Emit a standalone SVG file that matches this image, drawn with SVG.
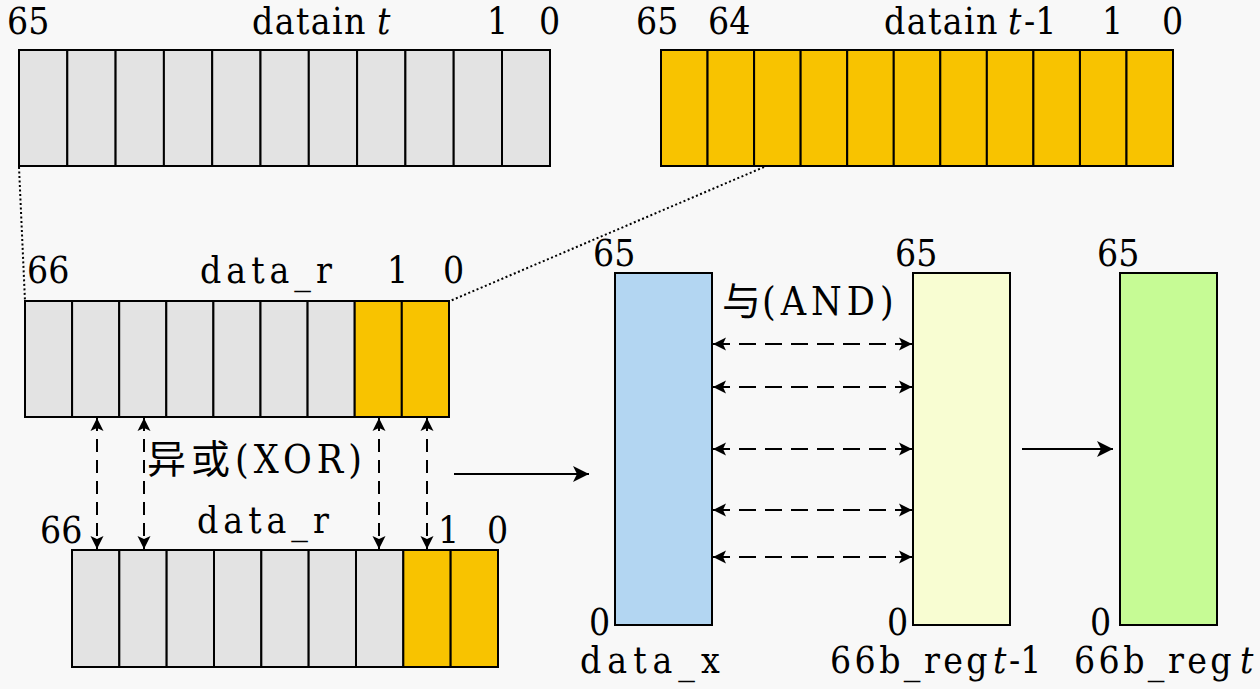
<svg xmlns="http://www.w3.org/2000/svg" width="1260" height="689" viewBox="0 0 1260 689">
<style>
text{font-family:"DejaVu Serif Condensed","DejaVu Serif",serif;font-stretch:condensed;font-size:37px;fill:#000}
.cjk{font-family:"DejaVu Serif Condensed","DejaVu Serif","Noto Sans CJK SC",serif;font-size:39px}
.it{font-style:italic}
.g{fill:#e3e3e3;stroke:#000;stroke-width:2}
.o{fill:#f8c300;stroke:#000;stroke-width:2}
.blue{fill:#b3d6f2;stroke:#000;stroke-width:2}
.yel{fill:#f8fdd2;stroke:#000;stroke-width:2}
.grn{fill:#c6fb95;stroke:#000;stroke-width:2}
.dash{fill:none;stroke:#000;stroke-width:2;stroke-dasharray:13 8}
.hdash{fill:none;stroke:#000;stroke-width:2;stroke-dasharray:17 9}
.dot{fill:none;stroke:#000;stroke-width:2;stroke-dasharray:2 2.5}
.solid{fill:none;stroke:#000;stroke-width:2}
</style>
<defs>
<marker id="ah" viewBox="-15 -8 16 16" refX="0" refY="0" markerWidth="16" markerHeight="16" markerUnits="userSpaceOnUse" orient="auto-start-reverse">
<path d="M0,0 L-13,-6.5 L-10,0 L-13,6.5 Z" fill="#000"/>
</marker>
<marker id="ahb" viewBox="-18 -10 20 20" refX="0" refY="0" markerWidth="20" markerHeight="20" markerUnits="userSpaceOnUse" orient="auto">
<path d="M0,0 L-16,-8 L-12,0 L-16,8 Z" fill="#000"/>
</marker>
</defs>
<rect x="0" y="0" width="1260" height="689" fill="#f8f8f8"/>

<g id="datain_t">
<rect class="g" x="19" y="50" width="48.3" height="116"/>
<rect class="g" x="67.3" y="50" width="48.3" height="116"/>
<rect class="g" x="115.6" y="50" width="48.3" height="116"/>
<rect class="g" x="163.9" y="50" width="48.3" height="116"/>
<rect class="g" x="212.2" y="50" width="48.3" height="116"/>
<rect class="g" x="260.5" y="50" width="48.3" height="116"/>
<rect class="g" x="308.8" y="50" width="48.3" height="116"/>
<rect class="g" x="357.1" y="50" width="48.3" height="116"/>
<rect class="g" x="405.4" y="50" width="48.3" height="116"/>
<rect class="g" x="453.7" y="50" width="48.3" height="116"/>
<rect class="g" x="502" y="50" width="48" height="116"/>
<text x="7" y="34">65</text>
<text x="252" y="34"><tspan letter-spacing="1.4">datain</tspan><tspan class="it" x="377">t</tspan></text>
<text x="487" y="34">1</text>
<text x="539" y="34">0</text>
</g>

<g id="datain_t1">
<rect class="o" x="661" y="50" width="46.55" height="116"/>
<rect class="o" x="707.55" y="50" width="46.55" height="116"/>
<rect class="o" x="754.1" y="50" width="46.55" height="116"/>
<rect class="o" x="800.65" y="50" width="46.55" height="116"/>
<rect class="o" x="847.2" y="50" width="46.55" height="116"/>
<rect class="o" x="893.75" y="50" width="46.55" height="116"/>
<rect class="o" x="940.3" y="50" width="46.55" height="116"/>
<rect class="o" x="986.85" y="50" width="46.55" height="116"/>
<rect class="o" x="1033.4" y="50" width="46.55" height="116"/>
<rect class="o" x="1079.95" y="50" width="46.55" height="116"/>
<rect class="o" x="1126.5" y="50" width="46.5" height="116"/>
<text x="636" y="34">65</text>
<text x="708" y="34">64</text>
<text x="884" y="34"><tspan letter-spacing="1.4">datain</tspan><tspan class="it" x="1008">t</tspan><tspan x="1024">-1</tspan></text>
<text x="1102" y="34">1</text>
<text x="1162" y="34">0</text>
</g>

<g id="data_r_top">
<rect class="g" x="25" y="301" width="47.1" height="116"/>
<rect class="g" x="72.1" y="301" width="47.1" height="116"/>
<rect class="g" x="119.2" y="301" width="47.1" height="116"/>
<rect class="g" x="166.3" y="301" width="47.1" height="116"/>
<rect class="g" x="213.4" y="301" width="47.1" height="116"/>
<rect class="g" x="260.5" y="301" width="47.1" height="116"/>
<rect class="g" x="307.6" y="301" width="47.1" height="116"/>
<rect class="o" x="354.7" y="301" width="47.1" height="116"/>
<rect class="o" x="401.8" y="301" width="47.2" height="116"/>
<text x="27" y="283">66</text>
<text x="200" y="283" letter-spacing="5">data_r</text>
<text x="387" y="283">1</text>
<text x="443" y="283">0</text>
</g>

<g id="data_r_bottom">
<rect class="g" x="72" y="550" width="47.33" height="117"/>
<rect class="g" x="119.33" y="550" width="47.33" height="117"/>
<rect class="g" x="166.66" y="550" width="47.33" height="117"/>
<rect class="g" x="214" y="550" width="47.33" height="117"/>
<rect class="g" x="261.33" y="550" width="47.33" height="117"/>
<rect class="g" x="308.66" y="550" width="47.33" height="117"/>
<rect class="g" x="356" y="550" width="47.33" height="117"/>
<rect class="o" x="403.33" y="550" width="47.33" height="117"/>
<rect class="o" x="450.66" y="550" width="47.34" height="117"/>
<text x="40" y="543">66</text>
<text x="197" y="533" letter-spacing="5">data_r</text>
<text x="438" y="543">1</text>
<text x="487" y="543">0</text>
</g>

<g id="data_x">
<rect class="blue" x="615" y="273" width="97" height="352"/>
<text x="593" y="266">65</text>
<text x="589" y="635">0</text>
<text x="580" y="673" letter-spacing="6">data_x</text>
</g>

<g id="reg_t1">
<rect class="yel" x="913" y="273" width="97" height="352"/>
<text x="895" y="266">65</text>
<text x="887" y="635">0</text>
<text x="830" y="673"><tspan letter-spacing="3.4">66b_reg</tspan><tspan class="it" x="993">t</tspan><tspan x="1009">-1</tspan></text>
</g>

<g id="reg_t">
<rect class="grn" x="1120" y="273" width="97" height="352"/>
<text x="1097" y="266">65</text>
<text x="1090" y="635">0</text>
<text x="1074" y="673"><tspan letter-spacing="3.4">66b_reg</tspan><tspan class="it" x="1240">t</tspan></text>
</g>

<g id="labels">
<text class="cjk" x="147" y="473"><tspan letter-spacing="5">异或</tspan><tspan letter-spacing="5">(XOR)</tspan></text>
<text class="cjk" x="722" y="315"><tspan letter-spacing="1">与</tspan><tspan letter-spacing="5">(AND)</tspan></text>
</g>

<g id="connectors">
<line class="dot" x1="19" y1="167" x2="25" y2="301"/>
<line class="dot" x1="764" y1="167" x2="450" y2="301"/>
<line class="dash" x1="97" y1="418" x2="97" y2="549" marker-start="url(#ah)" marker-end="url(#ah)"/>
<line class="dash" x1="144" y1="418" x2="144" y2="549" marker-start="url(#ah)" marker-end="url(#ah)"/>
<line class="dash" x1="379" y1="418" x2="379" y2="549" marker-start="url(#ah)" marker-end="url(#ah)"/>
<line class="dash" x1="427" y1="418" x2="427" y2="549" marker-start="url(#ah)" marker-end="url(#ah)"/>
<line class="hdash" x1="713" y1="344" x2="912" y2="344" marker-start="url(#ah)" marker-end="url(#ah)"/>
<line class="hdash" x1="713" y1="387" x2="912" y2="387" marker-start="url(#ah)" marker-end="url(#ah)"/>
<line class="hdash" x1="713" y1="449" x2="912" y2="449" marker-start="url(#ah)" marker-end="url(#ah)"/>
<line class="hdash" x1="713" y1="510" x2="912" y2="510" marker-start="url(#ah)" marker-end="url(#ah)"/>
<line class="hdash" x1="713" y1="557" x2="912" y2="557" marker-start="url(#ah)" marker-end="url(#ah)"/>
<line class="solid" x1="454" y1="474" x2="589" y2="474" marker-end="url(#ahb)"/>
<line class="solid" x1="1022" y1="449" x2="1113" y2="449" marker-end="url(#ahb)"/>
</g>
</svg>
